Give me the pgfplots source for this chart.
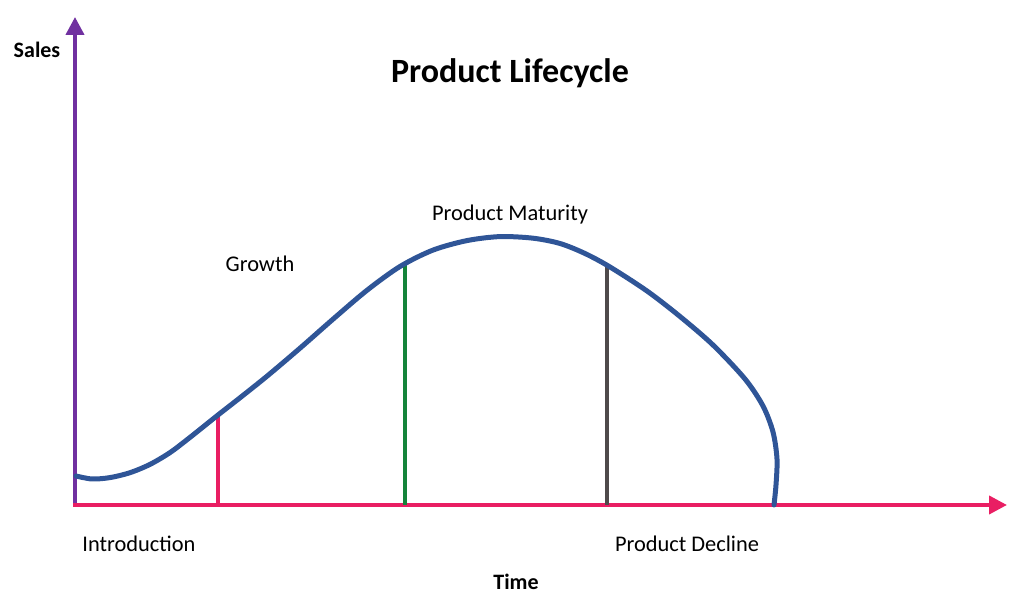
\documentclass[border=0pt]{standalone}
\usepackage{pgfplots}
\pgfplotsset{compat=1.18}
\usepackage{fontspec}
\setmainfont{Carlito}
\usetikzlibrary{arrows.meta}
\definecolor{axpurple}{HTML}{7030A0}
\definecolor{axpink}{HTML}{E91E63}
\definecolor{curveblue}{HTML}{2F5597}
\definecolor{lgreen}{HTML}{15843A}
\definecolor{lgrey}{HTML}{4F4A4B}
\begin{document}
\begin{tikzpicture}
\begin{axis}[
  scale only axis, width=512pt, height=304.5pt,
  xmin=0, xmax=1024, ymin=0, ymax=609,
  hide axis, clip=false,
]
\addplot[draw=none] coordinates {(0,0) (1024,609)};
% axes
\addplot[axpurple, line width=2pt, -{Triangle[length=9pt,width=9pt]}] coordinates {(75,104) (75,592)};
\addplot[axpink, line width=2pt, -{Triangle[length=9pt,width=9pt]}] coordinates {(73,104) (1007,104)};
% vertical stage lines
\addplot[axpink, line width=1.75pt] coordinates {(218,104) (218,194)};
\addplot[lgreen, line width=1.75pt] coordinates {(405,104) (405,346)};
\addplot[lgrey, line width=1.75pt] coordinates {(607,104) (607,342)};
% curve
\addplot[curveblue, line width=2.5pt, smooth, tension=0.5, line cap=round] coordinates {
(76,133) (92,130) (110,131.4) (130,136.3) (150,144.6) (170,156.4) (190,171.6) (218,194)
(240,211.2) (267,232.8) (300,260.8) (333,289.8) (367,318.7) (400,342.5) (433,358.9) (467,368.4)
(500,372.4) (533,370.8) (560,365.5) (585,355.5) (610,342) (647,318) (680,292.5) (713,264) (745,230)
(763,203) (773,177) (777,150) (776,124) (774,104)};
% texts
\node[font=\fontsize{17}{20}\selectfont\bfseries] at (axis cs:510,536) {Product Lifecycle};
\node[font=\fontsize{11}{13}\selectfont\bfseries] at (axis cs:37,559) {Sales};
\node[font=\fontsize{11}{13}\selectfont\bfseries] at (axis cs:516,27) {Time};
\node[font=\fontsize{11.2}{13}\selectfont] at (axis cs:139,65) {Introduction};
\node[font=\fontsize{11.2}{13}\selectfont] at (axis cs:687,65) {Product Decline};
\node[font=\fontsize{11.2}{13}\selectfont] at (axis cs:260,345) {Growth};
\node[font=\fontsize{11.2}{13}\selectfont] at (axis cs:510,394) {Product Maturity};
\end{axis}
\end{tikzpicture}
\end{document}
